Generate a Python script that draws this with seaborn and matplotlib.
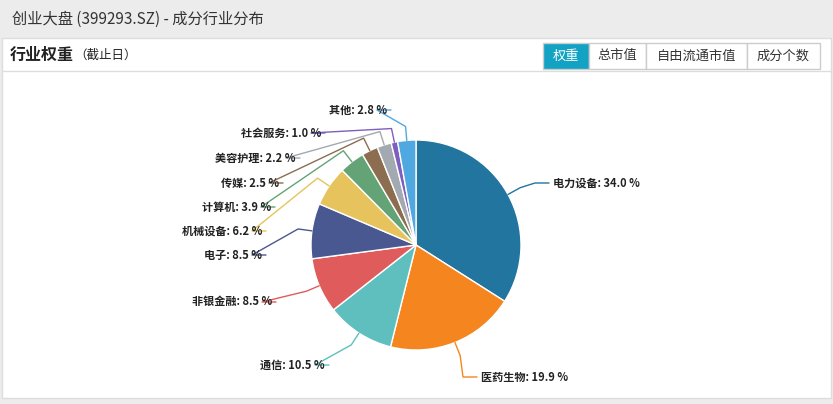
import numpy as np
import matplotlib.pyplot as plt
import seaborn as sns
from matplotlib.patches import Rectangle

sns.set_style('white')
plt.rcParams['font.family'] = ['Noto Sans CJK SC', 'DejaVu Sans']

# data
industries = ['电力设备', '医药生物', '通信', '非银金融', '电子', '机械设备',
              '计算机', '传媒', '美容护理', '社会服务', '其他']
weights = [34.0, 19.9, 10.5, 8.5, 8.5, 6.2, 3.9, 2.5, 2.2, 1.0, 2.8]
colors = ['#21759f', '#f5861f', '#5fbfbf', '#e05c5c', '#4a5891', '#e6c35c',
          '#63a375', '#8c6d4f', '#a3a9b0', '#7d5fbf', '#4fa8df']
buttons = ['权重', '总市值', '自由流通市值', '成分个数']

# label placement (pixels, y from top)
label_y = [183, 377, 365, 302, 255, 231, 207, 183, 158, 133, 110]
label_x = [553, 481, 325, 272, 262, 262, 271, 279, 296, 321, 387]

W, H = 833, 404
fig = plt.figure(figsize=(W / 100, H / 100), dpi=100)
ax = fig.add_axes([0, 0, 1, 1])

# pie
cx, cy, r = 416, H - 245, 105
wedges, _ = ax.pie(weights, colors=colors, startangle=90, counterclock=False,
                   center=(cx, cy), radius=r, frame=True,
                   wedgeprops=dict(edgecolor='white', linewidth=1))
ax.set_xlim(0, W)
ax.set_ylim(0, H)
ax.set_aspect('equal')
ax.axis('off')

# background frames
ax.add_patch(Rectangle((0, 0), W, H, color='#ececec', zorder=-2))
ax.add_patch(Rectangle((2, 6), W - 4, H - 44, facecolor='white', edgecolor='#dddddd', zorder=-1))
ax.text(12, H - 19, '创业大盘 (399293.SZ) - 成分行业分布', fontsize=11, color='#333333', va='center')
ax.text(10, H - 55, '行业权重', fontsize=11.5, fontweight='bold', color='#222222', va='center')
ax.text(74, H - 55, '（截止日）', fontsize=9, color='#222222', va='center')
ax.plot([2, W - 2], [H - 71, H - 71], color='#dddddd', lw=1)

bx = [543, 589, 646, 747, 820]
for i, b in enumerate(buttons):
    sel = i == 0
    ax.add_patch(Rectangle((bx[i], H - 69), bx[i + 1] - bx[i], 26,
                           facecolor='#12a2c4' if sel else 'white', edgecolor='#cccccc', lw=1))
    ax.text((bx[i] + bx[i + 1]) / 2, H - 56, b, fontsize=9.5, ha='center', va='center',
            color='white' if sel else '#333333')

for w, name, val, col, lx, ly in zip(wedges, industries, weights, colors, label_x, label_y):
    a = np.deg2rad((w.theta1 + w.theta2) / 2)
    ty = H - ly
    ex, ey = cx + r * np.cos(a), cy + r * np.sin(a)
    right = np.cos(a) > 0
    mx, my = cx + (r + 14) * np.cos(a), cy + (r + 14) * np.sin(a)
    endx = lx - 4 if right else lx + 4
    elx = endx + 14 if right is False else endx - 14
    ax.plot([ex, mx, elx, endx], [ey, my, ty, ty], color=col, lw=1)
    ax.text(lx, ty, f'{name}: {val:.1f} %', fontsize=8, fontweight='bold', color='#222222',
            ha='left' if right else 'right', va='center')

fig.savefig('out.png', dpi=100)
